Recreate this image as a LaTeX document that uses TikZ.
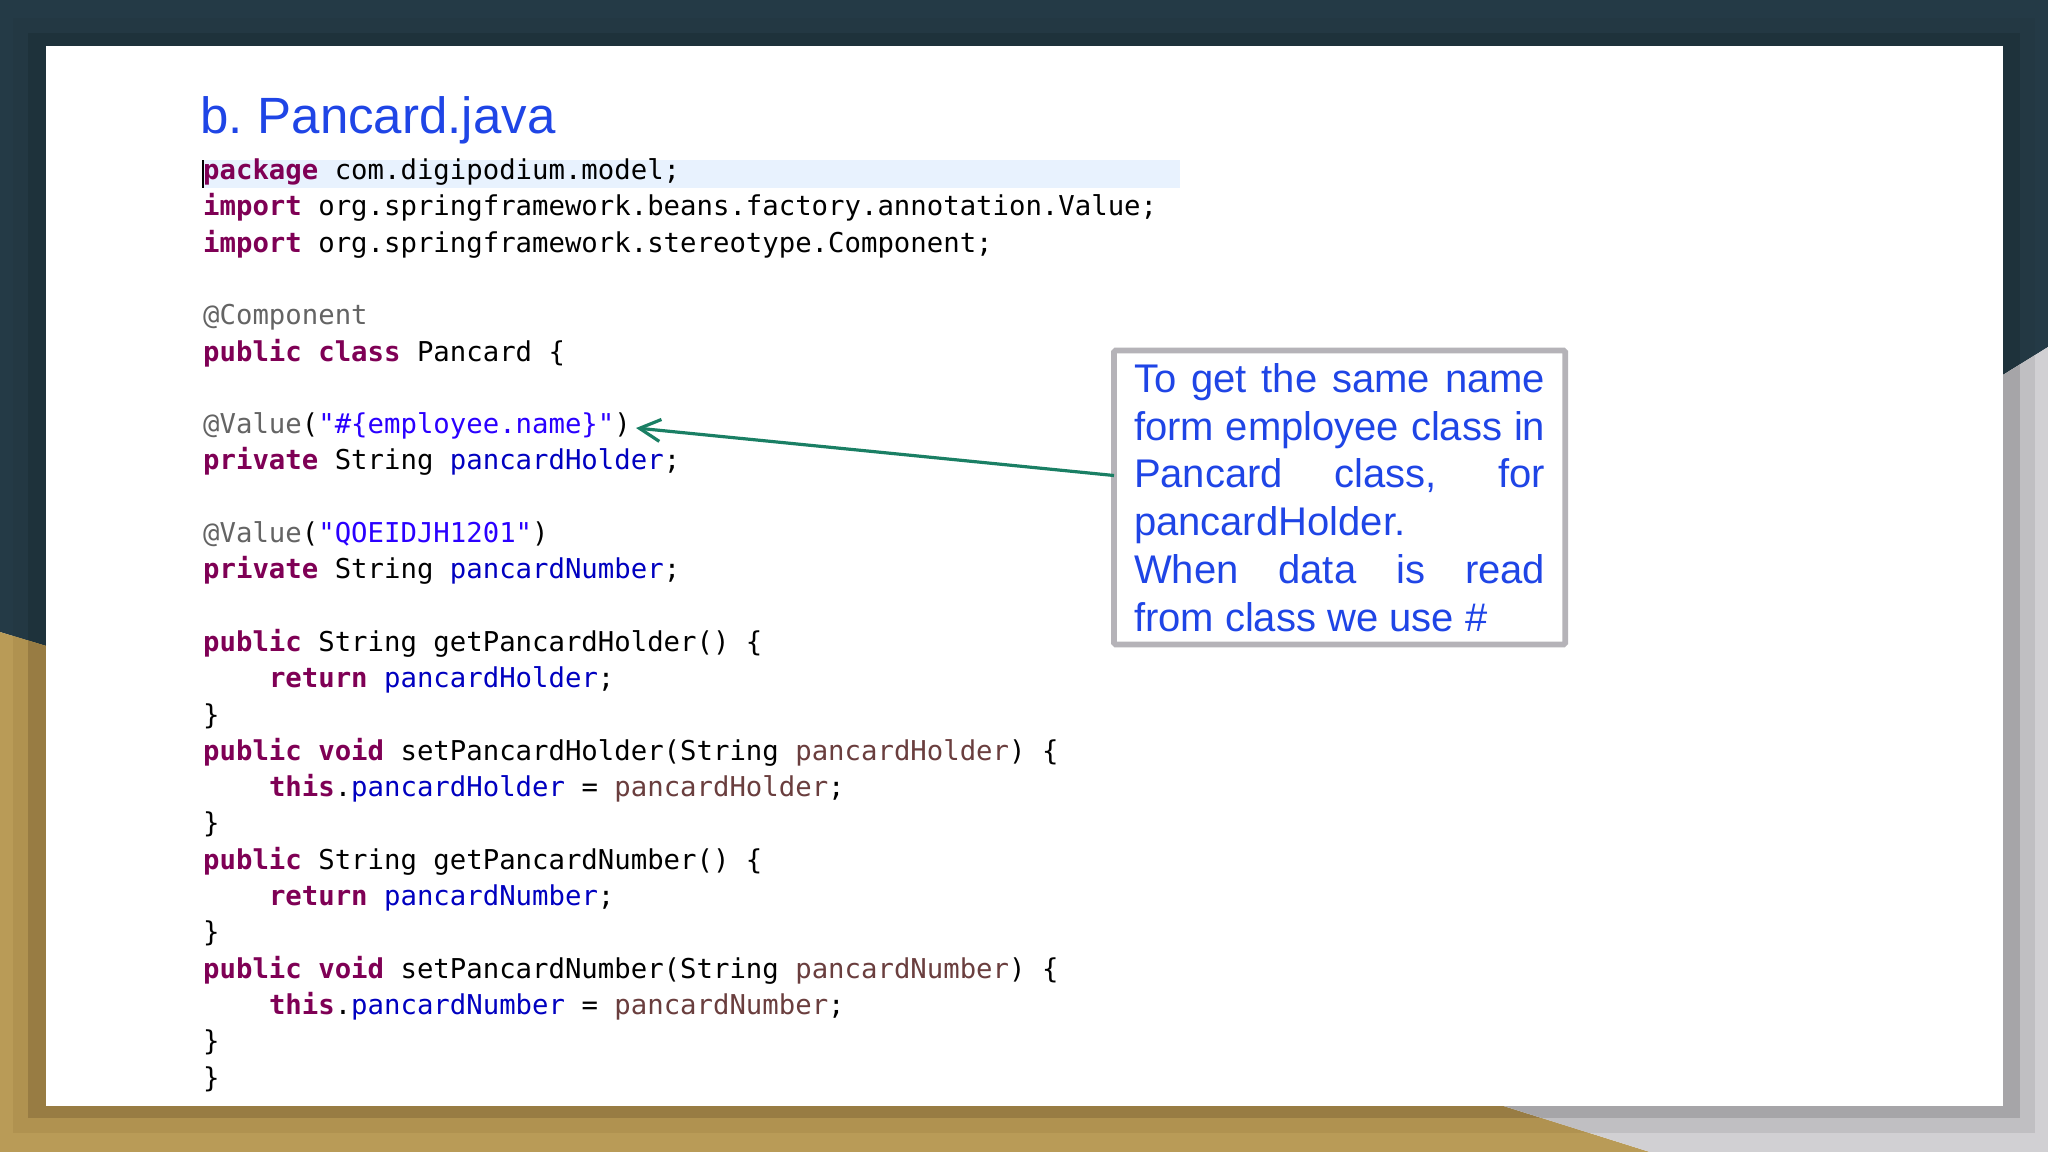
\documentclass[tikz,border=0pt]{standalone}
\usepackage{fontspec}
\setmainfont{Liberation Sans}
\newfontfamily\codefont{DejaVu Sans Mono}
\usetikzlibrary{arrows.meta}
\definecolor{tealL}{HTML}{243A46}
\definecolor{tealM}{HTML}{233843}
\definecolor{tealD}{HTML}{1E323B}
\definecolor{goldL}{HTML}{B99B57}
\definecolor{goldM}{HTML}{B09250}
\definecolor{goldD}{HTML}{987C43}
\definecolor{grayL}{HTML}{D1D0D3}
\definecolor{grayM}{HTML}{C0BFC2}
\definecolor{grayD}{HTML}{A6A5A8}
\definecolor{kw}{HTML}{7F0055}
\definecolor{fld}{HTML}{0000C0}
\definecolor{str}{HTML}{2A00FF}
\definecolor{ann}{HTML}{646464}
\definecolor{par}{HTML}{6A3E3E}
\definecolor{slideblue}{HTML}{1F45E6}
\definecolor{boxgray}{HTML}{B5B3B8}
\definecolor{arrowgreen}{HTML}{1A7F64}
\definecolor{hilite}{HTML}{E8F2FE}
\newcommand{\K}[1]{\textcolor{kw}{\bfseries #1}}
\newcommand{\F}[1]{\textcolor{fld}{#1}}
\newcommand{\St}[1]{\textcolor{str}{#1}}
\newcommand{\A}[1]{\textcolor{ann}{#1}}
\newcommand{\Pm}[1]{\textcolor{par}{#1}}
\newcommand{\bgregion}[4]{%
  \begin{scope}
    \clip #1;
    \fill[#2] (0,0) rectangle (2048,1152);
    \fill[#3] (13,18) rectangle (2035,1133);
    \fill[#4] (28,33) rectangle (2020,1118);
  \end{scope}}
\newcommand{\codeline}[3]{\node[codeln] (l#1) at (203.2,{179.5+36.3*(#1-1)}) {\hspace*{#2}#3};}
\tikzset{
  codeln/.style={anchor=base west,inner sep=0pt,outer sep=0pt,font=\codefont\fontsize{13.66}{16}\selectfont,text=black},
  titlenode/.style={anchor=base west,inner sep=0pt,text=slideblue,font=\fontsize{25.5}{30}\selectfont},
  notebox/.style={anchor=north west,draw=boxgray,line width=2.8pt,fill=white,rounded corners=0.8pt,
    inner xsep=10pt,inner ysep=0pt,outer sep=0pt,text width=205.6pt,minimum height=147pt,align=justify,
    text=slideblue,font=\fontsize{20}{23.9}\selectfont},
  notearrow/.style={draw=arrowgreen,line width=1.6pt,-{Straight Barb[length=10.5pt,width=11pt]}}
}
\begin{document}
\begin{tikzpicture}[x=0.5pt,y=-0.5pt]
\hbadness=10000
\useasboundingbox (0,0) rectangle (2048,1152);
\bgregion{(0,0) -- (2048,0) -- (2048,347) -- (2003,375) -- (46,646) -- (0,632) -- cycle}{tealL}{tealM}{tealD}
\bgregion{(0,632) -- (46,646) -- (1504,1106) -- (1650,1152) -- (0,1152) -- cycle}{goldL}{goldM}{goldD}
\bgregion{(2003,375) -- (2048,347) -- (2048,1152) -- (1650,1152) -- (1504,1106) -- cycle}{grayL}{grayM}{grayD}
\fill[white] (46,46) rectangle (2003,1106);
\fill[hilite] (202,160) rectangle (1180,188);
\node[titlenode] (title) at (200,133) {b.\hspace{7.4pt}Pancard.java};
\codeline{1}{0pt}{\K{package} com.digipodium.model;}
\codeline{2}{0pt}{\K{import} org.springframework.beans.factory.annotation.Value;}
\codeline{3}{0pt}{\K{import} org.springframework.stereotype.Component;}
\codeline{5}{0pt}{\A{@Component}}
\codeline{6}{0pt}{\K{public} \K{class} Pancard \{}
\codeline{8}{0pt}{\A{@Value}(\St{"\#\{employee.name\}"})}
\codeline{9}{0pt}{\K{private} String \F{pancardHolder};}
\codeline{11}{0pt}{\A{@Value}(\St{"QOEIDJH1201"})}
\codeline{12}{0pt}{\K{private} String \F{pancardNumber};}
\codeline{14}{0pt}{\K{public} String getPancardHolder() \{}
\codeline{15}{32.9pt}{\K{return} \F{pancardHolder};}
\codeline{16}{0pt}{\}}
\codeline{17}{0pt}{\K{public} \K{void} setPancardHolder(String \Pm{pancardHolder}) \{}
\codeline{18}{32.9pt}{\K{this}.\F{pancardHolder} = \Pm{pancardHolder};}
\codeline{19}{0pt}{\}}
\codeline{20}{0pt}{\K{public} String getPancardNumber() \{}
\codeline{21}{32.9pt}{\K{return} \F{pancardNumber};}
\codeline{22}{0pt}{\}}
\codeline{23}{0pt}{\K{public} \K{void} setPancardNumber(String \Pm{pancardNumber}) \{}
\codeline{24}{32.9pt}{\K{this}.\F{pancardNumber} = \Pm{pancardNumber};}
\codeline{25}{0pt}{\}}
\codeline{26}{0pt}{\}}
\draw[black,line width=1pt] (203,160) -- (203,188);
\node[notebox] (box) at (1114,350.5) {To get the same name\linebreak form employee class in\linebreak Pancard class, for\linebreak pancardHolder.\\When data is read\linebreak from class we use \#};
\draw[notearrow] ([yshift=11pt]box.west) -- ([xshift=2.6pt,yshift=-1pt]l8.east);
\end{tikzpicture}
\end{document}
